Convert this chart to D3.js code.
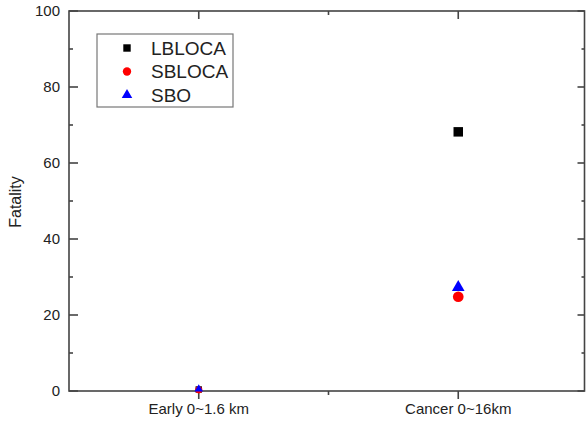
<!DOCTYPE html>
<html>
<head>
<meta charset="utf-8">
<script src="https://cdn.jsdelivr.net/npm/d3@7"></script>
<style>
  body { margin: 0; background: #fff; }
  text { font-family: Arial, "Liberation Sans", sans-serif; fill: #222; }
</style>
</head>
<body>
<svg id="chart" width="586" height="423"></svg>
<script>
var categories = ["Early 0~1.6 km", "Cancer 0~16km"];
var lbloca = [0.4, 68.2];
var sbloca = [0.3, 24.8];
var sbo = [0.5, 27.3];
var yTicks = [0, 20, 40, 60, 80, 100];

var series = [
  {name: "LBLOCA", values: lbloca, shape: d3.symbolSquare, color: "#000"},
  {name: "SBLOCA", values: sbloca, shape: d3.symbolCircle, color: "#f00"},
  {name: "SBO", values: sbo, shape: d3.symbolTriangle, color: "#00f"}
];

var svg = d3.select("#chart"),
    plotL = 69, plotR = 588, plotT = 11, plotB = 391,
    edgeR = 584.5;   // right frame line sits just inside the cut-off edge

var x = d3.scaleLinear().domain([0.5, 2.5]).range([plotL, plotR]);
var y = d3.scaleLinear().domain([0, 100]).range([plotB, plotT]);

var axisColor = "#444";

// frame
svg.append("rect")
  .attr("x", plotL).attr("y", plotT)
  .attr("width", edgeR - plotL).attr("height", plotB - plotT)
  .attr("fill", "none").attr("stroke", axisColor).attr("stroke-width", 1.6);

// left axis, ticks inward
var yMinor = d3.range(10, 100, 20);
var gl = svg.append("g").attr("transform", "translate(" + plotL + ",0)");
gl.selectAll(".maj").data(yTicks).enter().append("line")
  .attr("x1", 0).attr("x2", 9).attr("y1", y).attr("y2", y)
  .attr("stroke", axisColor).attr("stroke-width", 1.6);
gl.selectAll(".min").data(yMinor).enter().append("line")
  .attr("x1", 0).attr("x2", 4).attr("y1", y).attr("y2", y)
  .attr("stroke", axisColor).attr("stroke-width", 1.6);
gl.selectAll("text").data(yTicks).enter().append("text")
  .attr("x", -9).attr("y", y).attr("dy", "0.36em")
  .attr("text-anchor", "end").style("font-size", "15px")
  .text(function(d){ return d; });

// right axis, ticks inward
var gr = svg.append("g").attr("transform", "translate(" + edgeR + ",0)");
gr.selectAll(".maj").data(yTicks).enter().append("line")
  .attr("x1", 0).attr("x2", -7).attr("y1", y).attr("y2", y)
  .attr("stroke", axisColor).attr("stroke-width", 1.6);
gr.selectAll(".min").data(yMinor).enter().append("line")
  .attr("x1", 0).attr("x2", -3).attr("y1", y).attr("y2", y)
  .attr("stroke", axisColor).attr("stroke-width", 1.6);

// bottom axis, ticks outward; top axis, ticks inward
var xMajor = [1, 2], xMinor = [1.5];
svg.selectAll(".bmaj").data(xMajor).enter().append("line")
  .attr("x1", x).attr("x2", x).attr("y1", plotB).attr("y2", plotB + 8)
  .attr("stroke", axisColor).attr("stroke-width", 1.6);
svg.selectAll(".bmin").data(xMinor).enter().append("line")
  .attr("x1", x).attr("x2", x).attr("y1", plotB).attr("y2", plotB + 4)
  .attr("stroke", axisColor).attr("stroke-width", 1.6);
svg.selectAll(".tmaj").data(xMajor).enter().append("line")
  .attr("x1", x).attr("x2", x).attr("y1", plotT).attr("y2", plotT + 8)
  .attr("stroke", axisColor).attr("stroke-width", 1.6);
svg.selectAll(".tmin").data(xMinor).enter().append("line")
  .attr("x1", x).attr("x2", x).attr("y1", plotT).attr("y2", plotT + 4)
  .attr("stroke", axisColor).attr("stroke-width", 1.6);
svg.selectAll(".xlab").data(categories).enter().append("text")
  .attr("x", function(d, i){ return x(i + 1); }).attr("y", 414)
  .attr("text-anchor", "middle").style("font-size", "15px")
  .text(function(d){ return d; });

// y title
svg.append("text")
  .attr("transform", "translate(21,202) rotate(-90)")
  .attr("text-anchor", "middle").style("font-size", "16px")
  .text("Fatality");

// points (the Early ones sit on top of each other near zero)
series.forEach(function(s){
  svg.selectAll(null).data(s.values).enter().append("path")
    .attr("d", function(d, i){
      var base = s.shape === d3.symbolTriangle ? 70 : 90;
      return d3.symbol().type(s.shape).size(i === 0 ? base * 0.45 : base)();
    })
    .attr("transform", function(d, i){ return "translate(" + x(i + 1) + "," + y(d) + ")"; })
    .attr("fill", s.color);
});

// legend
var lg = svg.append("g");
lg.append("rect").attr("x", 97).attr("y", 34).attr("width", 136).attr("height", 73)
  .attr("fill", "#fff").attr("stroke", "#777").attr("stroke-width", 1.2);
series.forEach(function(s, i){
  var yy = 48 + i * 23.5;
  lg.append("path")
    .attr("d", d3.symbol().type(s.shape).size(s.shape === d3.symbolTriangle ? 48 : 55))
    .attr("transform", "translate(127," + yy + ")")
    .attr("fill", s.color);
  lg.append("text").attr("x", 151).attr("y", yy).attr("dy", "0.36em")
    .style("font-size", "19px").text(s.name);
});
</script>
</body>
</html>
